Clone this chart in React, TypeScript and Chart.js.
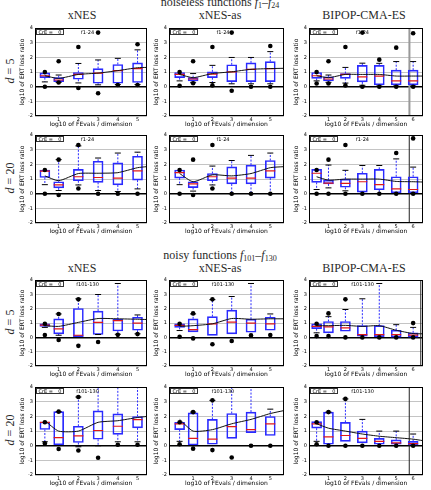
import React, { useEffect, useRef } from "react";
import { Chart, registerables } from "chart.js";
Chart.register(...registerables);

// Panel order: noiseless d=5 [xNES, xNES-as, BIPOP], noiseless d=20 [...], noisy d=5 [...], noisy d=20 [...]
const ALGORITHMS = ["xNES", "xNES-as", "BIPOP-CMA-ES"];
const DIMS = ["5", "20", "5", "20"];
const PANEL_TITLES = ["f1-24", "f1-24", "f101-130", "f101-130"];

const FEVALS_A = [0.3, 1, 2, 3, 4, 5];
const FEVALS_B = [0.3, 1, 2, 3, 4, 5, 6];
const X_TICKS_A = [1, 2, 3, 4, 5];
const X_TICKS_B = [1, 2, 3, 4, 5, 6];
const Y_TICKS = [-2, -1, 0, 1, 2, 3, 4];
const X_MIN = [-0.2, -0.25, -0.15];
const X_MAX = [5.47, 5.7, 6.57];

const BOX_Q1 = [
  [0.62, 0.35, 0.51, 0.24, 0.24, 0.29],
  [0.62, 0.4, 0.62, 0.35, 0.35, 0.35],
  [0.57, 0.4, 0.57, 0.33, 0.13, 0.13, 0.13],
  [1.11, 0.4, 0.89, 0.78, 0.6, 0.93],
  [1.07, 0.42, 0.89, 0.67, 0.67, 1.07],
  [0.78, 0.67, 0.44, 0.11, 0.27, 0.07, 0.07],
  [0.77, 0.25, 0.05, 0.2, 0.45, 0.5],
  [0.7, 0.39, 0.14, 0.25, 0.36, 0.5],
  [0.61, 0.32, 0.43, 0.09, 0.0, 0.02, 0.02],
  [1.11, 0.07, 0.22, 0.44, 0.78, 1.22],
  [1.1, 0.05, 0.1, 0.5, 0.9, 0.7],
  [1.2, 0.1, 0.3, 0.2, 0.1, 0.1, 0.05],
];
const BOX_MED = [
  [0.75, 0.46, 0.84, 0.93, 1.1, 1.24],
  [0.84, 0.53, 0.86, 1.02, 1.19, 1.24],
  [0.75, 0.53, 0.84, 0.68, 0.73, 0.4, 0.4],
  [1.55, 0.6, 1.16, 1.11, 1.07, 1.56],
  [1.44, 0.67, 1.16, 1.07, 1.07, 1.56],
  [1.4, 0.73, 0.71, 0.82, 0.62, 0.33, 0.29],
  [0.86, 0.59, 0.15, 1.05, 1.18, 1.0],
  [0.84, 0.55, 0.95, 1.07, 1.0, 0.95],
  [0.77, 0.73, 0.66, 0.2, 0.2, 0.2, 0.16],
  [1.6, 0.56, 0.67, 1.04, 1.33, 1.78],
  [1.5, 0.5, 0.45, 1.3, 1.1, 1.5],
  [1.5, 0.6, 0.7, 0.5, 0.3, 0.2, 0.15],
];
const BOX_Q3 = [
  [0.95, 0.62, 0.97, 1.24, 1.52, 1.63],
  [0.97, 0.62, 1.02, 1.5, 1.63, 1.72],
  [0.97, 0.68, 0.9, 1.46, 1.46, 1.13, 1.13],
  [1.62, 0.82, 1.67, 2.22, 2.11, 2.56],
  [1.62, 0.82, 1.38, 1.84, 1.96, 2.27],
  [1.67, 0.93, 1.0, 1.4, 1.67, 1.16, 1.16],
  [0.95, 1.3, 2.02, 1.84, 1.27, 1.41],
  [0.95, 1.3, 1.45, 1.91, 1.27, 1.41],
  [0.95, 1.11, 1.11, 0.82, 0.82, 0.5, 0.32],
  [1.62, 2.33, 1.33, 2.38, 2.18, 2.0],
  [1.6, 2.25, 1.8, 2.2, 2.3, 2.0],
  [1.65, 2.3, 1.6, 1.0, 0.5, 0.4, 0.3],
];
const WHISK_LO = [
  [0.33, 0.3, 0.26, 0.13, 0.15, 0.15],
  [0.4, 0.3, 0.29, 0.2, 0.2, 0.2],
  [0.4, 0.3, 0.25, 0.1, 0.05, 0.05, 0.05],
  [0.62, 0.22, 0.6, 0.22, 0.15, 0.33],
  [0.62, 0.18, 0.6, 0.0, 0.0, 0.0],
  [0.29, 0.4, 0.2, 0.02, 0.02, 0.02, 0.02],
  [0.7, 0.15, null, 0.2, 0.22, 0.25],
  [0.48, null, null, null, null, null],
  [0.32, null, null, null, null, null, null],
  [0.27, null, -0.07, 0.0, 0.27, 0.27],
  [0.3, null, null, null, null, null],
  [0.3, null, null, null, null, null, null],
];
const WHISK_HI = [
  [null, 0.8, 1.59, 1.83, 1.94, 2.52],
  [null, 0.9, 1.46, 2.0, 2.0, 2.4],
  [null, 0.8, 1.32, 1.61, 1.6, 1.72, 1.72],
  [null, 2.33, 3.27, 2.44, 2.78, 2.84],
  [null, null, 1.89, 2.27, 2.62, 2.78],
  [null, 1.96, 1.6, 1.93, 1.93, 2.38, 1.82],
  [null, 1.64, 2.7, 3.0, 3.77, 1.57],
  [null, 1.64, 2.64, 2.86, 3.77, 1.64],
  [null, 1.45, 1.95, 2.7, 3.77, 0.89, 0.7],
  [null, 2.33, 3.33, 4.0, 4.0, 4.0],
  [null, 2.3, 3.1, 4.0, 4.0, 2.5],
  [null, 2.3, 3.2, 1.8, 1.0, 1.0, 0.8],
];
const DOT_MAX = [
  [1.0, 1.74, 2.72, 3.7, null, 2.9],
  [1.0, 1.74, 2.72, 3.7, null, 2.78],
  [1.0, 1.74, 2.72, 3.7, 1.85, 2.67, 3.66],
  [1.62, 2.33, 3.33, null, null, null],
  [1.62, 2.33, 3.33, null, null, null],
  [1.62, 2.33, 3.33, null, null, 2.78, 3.78],
  [0.95, 1.64, 2.66, null, null, null],
  [0.95, 1.68, 2.66, null, null, null],
  [0.95, 1.68, 2.66, null, null, null, 1.0],
  [1.6, 2.33, 3.33, null, null, null],
  [1.6, 2.3, 3.1, null, null, null],
  [1.6, 2.3, 3.2, null, null, null, null],
];
const DOT_MIN = [
  [0.0, 0.29, -0.09, -0.45, 0.12, 0.12],
  [0.07, 0.24, 0.09, -0.27, 0.0, 0.0],
  [0.22, 0.22, 0.09, 0.0, 0.0, 0.0, 0.0],
  [0.0, -0.09, 0.36, 0.0, 0.0, 0.0],
  [0.0, -0.09, 0.36, 0.0, 0.0, 0.0],
  [0.0, 0.0, 0.0, 0.0, 0.0, 0.0, 0.0],
  [0.16, -0.18, -0.59, -0.32, 0.18, 0.23],
  [0.05, -0.07, -0.48, -0.25, 0.14, 0.16],
  [0.09, 0.09, 0.0, 0.0, 0.0, 0.0, 0.0],
  [0.16, -0.22, -0.33, -0.82, 0.07, 0.07],
  [0.1, -0.2, -0.3, -0.8, 0.0, 0.0],
  [0.1, 0.0, 0.0, 0.0, 0.0, 0.0, 0.0],
];
// ERT loss ratio line: one value per box, then the value at the right edge
const ERT_LINE = [
  [0.75, 0.57, 0.84, 0.93, 1.1, 1.3, 1.32],
  [0.84, 0.62, 0.9, 1.02, 1.19, 1.24, 1.26],
  [0.75, 0.62, 0.84, 0.84, 0.84, 0.73, 0.73, 0.73],
  [1.22, 0.89, 1.38, 1.4, 1.44, 1.78, 1.85],
  [1.38, 0.82, 1.29, 1.22, 1.38, 1.78, 1.85],
  [1.16, 0.93, 1.0, 1.0, 1.0, 0.84, 0.82, 0.8],
  [0.82, 0.77, 1.05, 1.32, 1.3, 1.27, 1.25],
  [0.77, 0.82, 0.95, 1.32, 1.27, 1.3, 1.3],
  [0.82, 0.82, 0.84, 0.77, 0.82, 0.5, 0.27, 0.25],
  [1.71, 1.0, 1.0, 1.6, 1.71, 1.93, 2.0],
  [1.8, 1.0, 1.1, 1.5, 1.8, 2.2, 2.4],
  [1.5, 1.2, 1.0, 0.8, 0.65, 0.55, 0.45, 0.35],
];
const VLINE = [null, null, 5.78, null, null, 5.77, null, null, 6.45, null, null, 5.77];

// layout (pixels)
const ROW_TOP = [26, 133, 278, 385];
const ROW_H = [90, 90, 88, 90];
const COL_LEFT = [35, 169, 309];
const COL_W = [115, 118, 117];
const Y_AXIS_W = 16;
const X_AXIS_H = 12;
const PAD_TOP = 4;
const PAD_RIGHT = 3;

const TICK_FONT = { family: "'DejaVu Sans', sans-serif", size: 5 };
const TITLE_FONT = { family: "'DejaVu Sans', sans-serif", size: 6 };

function Panel({ idx }: { idx: number }) {
  const ref = useRef<HTMLCanvasElement>(null);
  const row = Math.floor(idx / 3);
  const col = idx % 3;
  const w = COL_W[col] + Y_AXIS_W + PAD_RIGHT;
  const h = ROW_H[row] + PAD_TOP + X_AXIS_H;

  useEffect(() => {
    const xs = col === 2 ? FEVALS_B : FEVALS_A;
    const xticks = col === 2 ? X_TICKS_B : X_TICKS_A;
    const q1 = BOX_Q1[idx], med = BOX_MED[idx], q3 = BOX_Q3[idx];
    const wlo = WHISK_LO[idx], whi = WHISK_HI[idx];
    const dmax = DOT_MAX[idx], dmin = DOT_MIN[idx];
    const ert = ERT_LINE[idx];

    const boxes = xs.map((x, i) => ({ x, y: [q1[i], q3[i]] }));
    const medians = xs.map((x, i) => ({ x, y: med[i] }));
    const whiskers: any[] = [];
    const caps: any[] = [];
    xs.forEach((x, i) => {
      if (whi[i] !== null) {
        whiskers.push({ x, y: q3[i] }, { x, y: whi[i] }, { x, y: null });
        caps.push({ x, y: whi[i] });
      }
      if (wlo[i] !== null) {
        whiskers.push({ x, y: q1[i] }, { x, y: wlo[i] }, { x, y: null });
        caps.push({ x, y: wlo[i] });
      }
    });
    const dots: any[] = [];
    xs.forEach((x, i) => {
      if (dmax[i] !== null) dots.push({ x, y: dmax[i] });
      if (dmin[i] !== null) dots.push({ x, y: dmin[i] });
    });
    const lineXs = [...xs, X_MAX[col]];
    const ertLine = lineXs.map((x, i) => ({ x, y: ert[i] }));

    const datasets: any[] = [
      { type: "scatter", data: dots, order: 0, pointRadius: 2.3, pointBackgroundColor: "#000", pointBorderColor: "#000", pointBorderWidth: 0 },
      { type: "line", data: ertLine, order: 1, borderColor: "#111", borderWidth: 1, pointRadius: 0, tension: 0.2 },
      { type: "scatter", data: medians, order: 2, pointStyle: "line", pointRadius: 5, borderColor: "#e01818", pointBorderColor: "#e01818", pointBorderWidth: 1.2 },
      { type: "scatter", data: caps, order: 3, pointStyle: "line", pointRadius: 3, pointBorderColor: "#000", borderColor: "#000", pointBorderWidth: 1 },
      { type: "bar", data: boxes, order: 4, barThickness: 10, borderColor: "#2a2aff", borderWidth: 1, borderSkipped: false, backgroundColor: "rgba(0,0,0,0)" },
      { type: "line", data: whiskers, order: 5, borderColor: "#2a2aff", borderWidth: 1, borderDash: [2, 1.5], pointRadius: 0, spanGaps: false },
    ];
    if (VLINE[idx] !== null) {
      const gray = idx === 2;
      datasets.push({
        type: "line",
        data: [{ x: VLINE[idx], y: Y_TICKS[0] }, { x: VLINE[idx], y: Y_TICKS[Y_TICKS.length - 1] }],
        order: 6,
        borderColor: gray ? "#999" : "#222",
        borderWidth: gray ? 2 : 1,
        pointRadius: 0,
      });
    }

    const title = PANEL_TITLES[row];
    const framePlugin = {
      id: "frame" + idx,
      afterDraw(chart: any) {
        const { ctx, chartArea: a } = chart;
        ctx.save();
        ctx.strokeStyle = "#000";
        ctx.lineWidth = 1;
        const l = Math.round(a.left) + 0.5, t = Math.round(a.top) + 0.5;
        ctx.strokeRect(l, t, Math.round(a.width) - 1, Math.round(a.height) - 1);
        ctx.fillStyle = "#fff";
        ctx.fillRect(l + 1, t + 1, 27, 5);
        ctx.strokeStyle = "#333";
        ctx.strokeRect(l + 1, t + 1, 27, 5);
        ctx.fillStyle = "#000";
        ctx.font = "5px 'DejaVu Sans', sans-serif";
        ctx.textBaseline = "middle";
        ctx.textAlign = "left";
        ctx.fillText("CrE =", l + 3, t + 3.8);
        ctx.textAlign = "right";
        ctx.fillText("0", l + 26, t + 3.8);
        ctx.textAlign = "center";
        ctx.fillText(title, a.left + a.width * 0.47, t + 3.8);
        ctx.restore();
      },
    };

    const chart = new Chart(ref.current as HTMLCanvasElement, {
      type: "bar",
      data: { datasets },
      options: {
        animation: false,
        responsive: false,
        maintainAspectRatio: false,
        devicePixelRatio: 1,
        layout: { padding: { top: PAD_TOP, right: PAD_RIGHT, left: 0, bottom: 0 } },
        plugins: { legend: { display: false }, tooltip: { enabled: false } },
        scales: {
          x: {
            type: "linear",
            min: X_MIN[col],
            max: X_MAX[col],
            offset: false,
            grid: { display: false, drawTicks: false },
            border: { display: false },
            afterBuildTicks: (s: any) => { s.ticks = xticks.map((v) => ({ value: v })); },
            afterFit: (s: any) => { s.height = X_AXIS_H; },
            ticks: { font: TICK_FONT, color: "#000", padding: 1, maxRotation: 0, autoSkip: false, callback: (v: any) => String(v) },
            title: { display: true, text: "log10 of FEvals / dimension", font: TITLE_FONT, color: "#000", padding: 0 },
          },
          y: {
            type: "linear",
            min: Y_TICKS[0],
            max: Y_TICKS[Y_TICKS.length - 1],
            grid: {
              drawTicks: false,
              color: (c: any) => (c.tick && c.tick.value === 0 ? "#000" : "#c4c4c4"),
              lineWidth: (c: any) => (c.tick && c.tick.value === 0 ? 1.5 : 1),
            },
            border: { display: false },
            afterBuildTicks: (s: any) => { s.ticks = Y_TICKS.map((v) => ({ value: v })); },
            afterFit: (s: any) => { s.width = Y_AXIS_W; },
            ticks: { font: TICK_FONT, color: "#000", padding: 2, autoSkip: false, callback: (v: any) => String(v) },
            title: { display: true, text: "log10 of ERT loss ratio", font: TITLE_FONT, color: "#000", padding: 0 },
          },
        },
      } as any,
      plugins: [framePlugin],
    } as any);
    return () => chart.destroy();
  }, [idx]);

  return (
    <canvas
      ref={ref}
      width={w}
      height={h}
      style={{ position: "absolute", left: COL_LEFT[col] - Y_AXIS_W, top: ROW_TOP[row] - PAD_TOP, width: w, height: h }}
    />
  );
}

const serif = "'Liberation Serif', 'DejaVu Serif', serif";

function Label({ x, y, children, rotate = false, size = 12 }: any) {
  return (
    <div
      style={{
        position: "absolute",
        left: x,
        top: y,
        transform: `translate(-50%, -50%)${rotate ? " rotate(-90deg)" : ""}`,
        fontFamily: serif,
        fontSize: size,
        fontWeight: "normal",
        whiteSpace: "nowrap",
        lineHeight: 1,
        color: "#2a2a2a",
      }}
    >
      {children}
    </div>
  );
}

const COL_CENTER = [82, 220, 364];
const SECTION_Y = [2, 255];
const ALG_Y = [15, 268];
const ROW_LABEL_Y = [71, 178, 322, 430];

export default function App() {
  const panels = [];
  for (let i = 0; i < 12; i++) panels.push(<Panel key={i} idx={i} />);
  const sub = { fontSize: 8, verticalAlign: "-2px", lineHeight: 0 };
  return (
    <div style={{ position: "absolute", left: 0, top: 0, width: 431, height: 490, background: "#fff", overflow: "hidden" }}>
      <Label x={220} y={SECTION_Y[0]}>
        noiseless functions <i>f</i><span style={sub}>1</span>–<i>f</i><span style={sub}>24</span>
      </Label>
      <Label x={220} y={SECTION_Y[1]}>
        noisy functions <i>f</i><span style={sub}>101</span>–<i>f</i><span style={sub}>130</span>
      </Label>
      {ALG_Y.map((y, r) =>
        ALGORITHMS.map((a, c) => (
          <Label key={`a${r}${c}`} x={COL_CENTER[c]} y={y}>{a}</Label>
        ))
      )}
      {DIMS.map((d, r) => (
        <Label key={`d${r}`} x={10} y={ROW_LABEL_Y[r]} rotate>
          <i>d</i> = {d}
        </Label>
      ))}
      {panels}
    </div>
  );
}
